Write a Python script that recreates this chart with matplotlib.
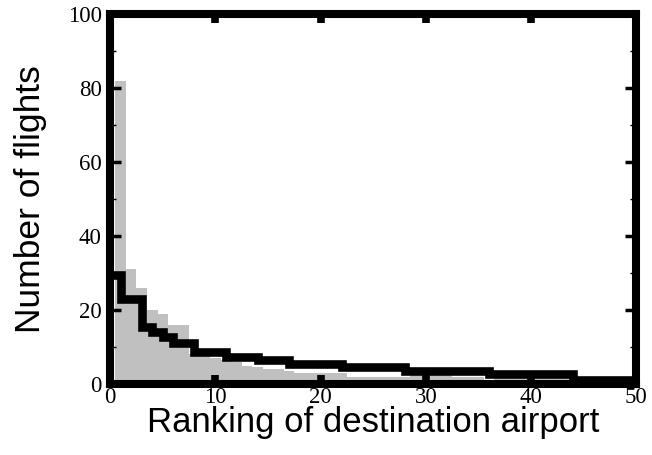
import numpy as np
import matplotlib
matplotlib.use("Agg")
import matplotlib.pyplot as plt
from matplotlib.ticker import MultipleLocator

# gray histogram, one bar per destination rank
rank = np.arange(1, 50)
gray_counts = [82, 31, 26, 20, 19, 16, 16, 8, 7.5, 7,
               6.5, 6, 5, 4.5, 4, 4, 3.5, 3, 3, 3,
               3, 3, 2, 2, 2, 2, 2, 2, 2.5, 2.5,
               2.5, 2.5, 2, 2, 2, 1, 1.5, 1.5, 1.5, 1.5,
               1.5, 1.5, 1.5, 1.5, 1, 1, 1, 1, 1]

# black step curve
black_edges = [0, 1, 3, 4, 5, 6, 8, 11, 14, 17, 22, 28, 36, 44, 50]
black_counts = [29.5, 23, 15.5, 14, 12.7, 11, 8.6, 7.4, 6.4, 5.5, 4.5, 3.5, 2.6, 1]

x_ticks = [0, 10, 20, 30, 40, 50]
y_ticks = [0, 20, 40, 60, 80, 100]

fig = plt.figure(figsize=(6.52, 4.55), dpi=100)
ax = fig.add_axes([0.169, 0.156, 0.807, 0.813])

ax.bar(rank, gray_counts, width=1.0, color="#c0c0c0", linewidth=0, zorder=1)
ax.stairs(black_counts, black_edges, baseline=None, color="black",
          linewidth=6.2, joinstyle="miter", zorder=2)

ax.set_xlim(0, 50)
ax.set_ylim(0, 100)
ax.set_xticks(x_ticks)
ax.set_yticks(y_ticks)
ax.yaxis.set_minor_locator(MultipleLocator(10))

for sp in ax.spines.values():
    sp.set_linewidth(5.8)
    sp.set_zorder(3)

ax.tick_params(axis="x", which="major", direction="in", top=True, bottom=True,
               length=6.5, width=5.5, pad=2)
ax.tick_params(axis="y", which="major", direction="in", left=True, right=True,
               length=8, width=2.5, pad=6)
ax.tick_params(axis="y", which="minor", direction="in", left=True, right=True,
               length=4, width=1)

for lab in ax.get_xticklabels() + ax.get_yticklabels():
    lab.set_fontfamily("Liberation Serif")
    lab.set_fontsize(16.5)

ax.set_xlabel("Ranking of destination airport", fontfamily="Liberation Sans",
              fontsize=25, labelpad=-1)
ax.set_ylabel("Number of flights", fontfamily="Liberation Sans",
              fontsize=25.5, labelpad=15)

fig.savefig("out.png", dpi=100)
